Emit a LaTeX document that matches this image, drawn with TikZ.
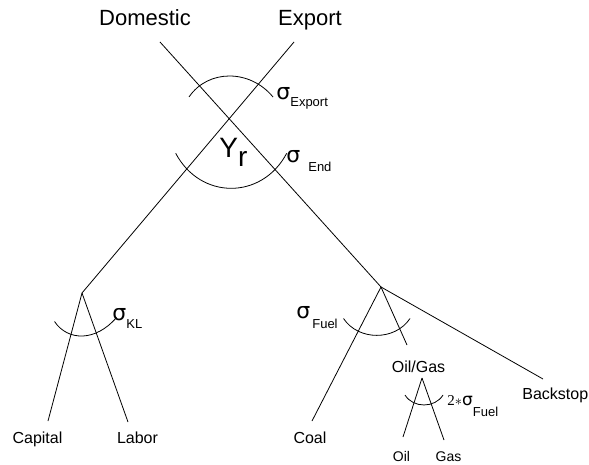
\documentclass[tikz,border=0pt]{standalone}
\usepackage{fontspec}
\setmainfont{Liberation Sans}
\newfontfamily\sigfam{DejaVu Sans}
\newfontfamily\numfam{Liberation Serif}
\newcommand\sigf{\sigfam\fontsize{22}{22}\selectfont}
\newcommand\subf{\fontsize{13}{13}\selectfont}
\newcommand\sigmalbl[3]{{\sigf σ}\hspace{#1pt}\raisebox{-#2pt}{\subf #3}}
\begin{document}
\begin{tikzpicture}[x=1pt,y=-1pt,line width=0.8pt,
  lbl/.style={inner sep=0pt,anchor=base},
  lblw/.style={inner sep=0pt,anchor=base west},
  bigtxt/.style={font=\fontsize{22}{22}\selectfont},
  smalltxt/.style={font=\fontsize{16}{16}\selectfont},
  tinytxt/.style={font=\fontsize{14}{14}\selectfont}]
\useasboundingbox (0,0) rectangle (589,465);
% points
\coordinate (D1) at (160,42);
\coordinate (E1) at (294,42);
\coordinate (KL) at (82,293);
\coordinate (FU) at (381,287);
\coordinate (Y) at (intersection of D1--FU and E1--KL);
\coordinate (CapE) at (48,421);
\coordinate (LabE) at (128,422);
\coordinate (CoalE) at (312,421);
\coordinate (OGE) at (407,345);
\coordinate (BackE) at (543,379);
\coordinate (OG) at (422,378);
\coordinate (OilE) at (403,437);
\coordinate (GasE) at (444,440);
% lines
\draw (D1) -- (FU);
\draw (E1) -- (KL);
\draw (KL) -- (CapE);
\draw (KL) -- (LabE);
\draw (FU) -- (CoalE);
\draw (FU) -- (OGE);
\draw (FU) -- (BackE);
\draw (OG) -- (OilE);
\draw (OG) -- (GasE);
% arcs
\draw (189,97) .. controls (208,69) and (250,69) .. (273,97);
\draw (175.7,153.3) .. controls (200.4,200) and (262,200) .. (286.7,153.3);
\draw (54.5,321.5) .. controls (68,341.5) and (96,341.5) .. (116.5,317.5);
\draw (343.5,318.5) .. controls (358.5,341) and (395,341) .. (410,318.5);
\draw (405,395) .. controls (413,408.3) and (435,408.3) .. (443,395);
% texts
\node[lbl,bigtxt] (dom) at (145,26) {Domestic};
\node[lbl,bigtxt] (exp) at (310,26) {Export};
\node[lblw] (yr) at (219,158) {\fontsize{28}{28}\selectfont Y\raisebox{-9pt}{r}};
\node[lblw] (sExp) at (276,100) {\sigmalbl{0}{7}{Export}};
\node[lblw] (sEnd) at (286,163) {\sigmalbl{8}{9}{End}};
\node[lblw] (sKL) at (112,320) {\sigmalbl{0}{8}{KL}};
\node[lblw] (sFuel) at (296,318) {\sigmalbl{2}{10}{Fuel}};
\node[lblw] (s2Fuel) at (447,405) {{\numfam\fontsize{15}{15}\selectfont 2$\ast$}{\sigfam\fontsize{17}{17}\selectfont σ}\raisebox{-11pt}{\subf Fuel}};
\node[lbl,smalltxt] (cap) at (37.5,443) {Capital};
\node[lbl,smalltxt] (lab) at (137.5,443) {Labor};
\node[lbl,smalltxt] (coal) at (310,443) {Coal};
\node[lbl,smalltxt] (oilgas) at (418.5,372) {Oil/Gas};
\node[lblw,smalltxt] (back) at (522,399) {Backstop};
\node[lbl,tinytxt] (oil) at (401.5,461) {Oil};
\node[lbl,tinytxt] (gas) at (448.5,461) {Gas};
\end{tikzpicture}
\end{document}
